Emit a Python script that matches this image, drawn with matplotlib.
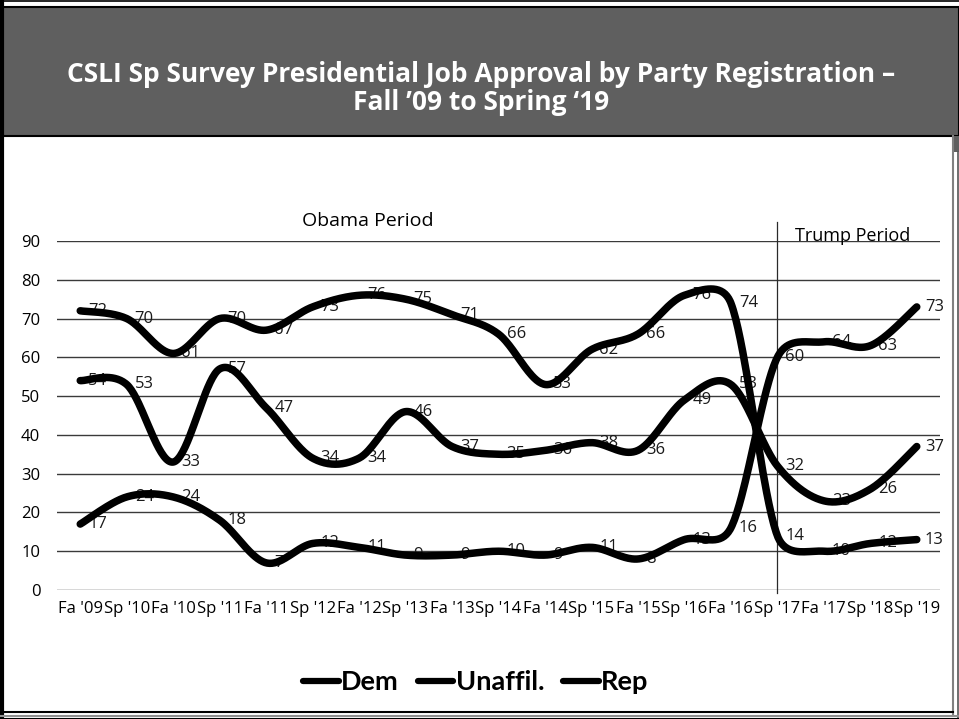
import numpy as np
import matplotlib
matplotlib.use("Agg")
import matplotlib.pyplot as plt
from matplotlib.patches import Rectangle
from matplotlib.lines import Line2D

# ---------------- data ----------------
categories = ["Fa '09", "Sp '10", "Fa '10", "Sp '11", "Fa '11", "Sp '12", "Fa '12",
              "Sp '13", "Fa '13", "Sp '14", "Fa '14", "Sp '15", "Fa '15", "Sp '16",
              "Fa '16", "Sp '17", "Fa '17", "Sp '18", "Sp '19"]
dem = [72, 70, 61, 70, 67, 73, 76, 75, 71, 66, 53, 62, 66, 76, 74, 14, 10, 12, 13]
unaffil = [54, 53, 33, 57, 47, 34, 34, 46, 37, 35, 36, 38, 36, 49, 53, 32, 23, 26, 37]
rep = [17, 24, 24, 18, 7, 12, 11, 9, 9, 10, 9, 11, 8, 13, 16, 60, 64, 63, 73]
series_names = ["Dem", "Unaffil.", "Rep"]
yticks = [0, 10, 20, 30, 40, 50, 60, 70, 80, 90]
title_lines = ["CSLI Sp Survey Presidential Job Approval by Party Registration \u2013",
               "Fall \u201909 to Spring \u201819"]
obama_label = "Obama Period"
trump_label = "Trump Period"
trump_start = "Sp '17"

W, H = 959, 719
fig = plt.figure(figsize=(W / 100, H / 100), dpi=100)
fig.patch.set_facecolor("white")

# ---------- frame / header overlay (pixel coordinates) ----------
bg = fig.add_axes([0, 0, 1, 1], zorder=0)
bg.set_xlim(0, W)
bg.set_ylim(H, 0)
bg.axis("off")
bg.add_patch(Rectangle((1, 7), W - 1.5, 129, facecolor="#5f5f5f",
                       edgecolor="black", lw=1.5))
bg.add_patch(Rectangle((954, 136), 5, 16, facecolor="#5f5f5f", edgecolor="none"))
bg.add_line(Line2D([0, W], [0.5, 0.5], color="black", lw=1.2))
bg.add_line(Line2D([1.5, 1.5], [0, H], color="black", lw=3))
bg.add_line(Line2D([953, 953], [136, 714], color="#808080", lw=1.5))
bg.add_line(Line2D([957.5, 957.5], [152, H], color="#555555", lw=1.2))
bg.add_line(Line2D([0, 953], [712, 712], color="black", lw=1.5))
bg.add_line(Line2D([0, W], [715.5, 715.5], color="#909090", lw=1.5))
bg.add_line(Line2D([0, W], [718.5, 718.5], color="black", lw=1.5))
title_font = ["Open Sans", "DejaVu Sans"]
bg.text(481, 74, title_lines[0], color="white", fontsize=19, fontweight="bold",
        family=title_font, ha="center", va="center")
bg.text(481, 103, title_lines[1], color="white", fontsize=19, fontweight="bold",
        family=title_font, ha="center", va="center")

# ---------------- main chart ----------------
left, right, bottom_px, top_px = 57, 940, 590, 241
ax = fig.add_axes([left / W, (H - bottom_px) / H, (right - left) / W,
                   (bottom_px - top_px) / H], zorder=1)
ax.set_facecolor("none")
n = len(categories)
x = np.arange(n)
ax.set_xlim(-0.5, n - 0.5)
ax.set_ylim(0, 90)
for s in ax.spines.values():
    s.set_visible(False)
ax.set_yticks(yticks)
ax.set_xticks(x)
ax.set_xticklabels(categories)
ax.tick_params(axis="both", length=0, labelsize=12, colors="black")
ax.tick_params(axis="y", pad=12)
ax.tick_params(axis="x", pad=8)
for lab in ax.get_xticklabels() + ax.get_yticklabels():
    lab.set_family(["Open Sans", "DejaVu Sans"])
for yv in yticks:
    ax.axhline(yv, color="#3a3a3a", lw=1.0, zorder=1)


def excel_smooth(xs, ys, nseg=40):
    pts = ax.transData.transform(np.column_stack([xs, ys]).astype(float))
    N = len(pts)
    out = [pts[:1]]
    for i in range(N - 1):
        p0 = pts[i - 1] if i > 0 else pts[i]
        p1 = pts[i]
        p2 = pts[i + 1]
        p3 = pts[i + 2] if i + 2 < N else pts[i + 1]
        d12 = np.linalg.norm(p2 - p1)
        d02 = np.linalg.norm(p2 - p0)
        d13 = np.linalg.norm(p3 - p1)
        f1 = 1 / 6 if d02 / 6 < d12 / 2 else d12 / (2 * d02)
        f2 = 1 / 6 if d13 / 6 < d12 / 2 else d12 / (2 * d13)
        b1 = p1 + (p2 - p0) * f1
        b2 = p2 - (p3 - p1) * f2
        t = np.linspace(0, 1, nseg)[1:, None]
        seg = ((1 - t) ** 3) * p1 + 3 * ((1 - t) ** 2) * t * b1 \
            + 3 * (1 - t) * t ** 2 * b2 + t ** 3 * p2
        out.append(seg)
    allp = np.vstack(out)
    return ax.transData.inverted().transform(allp)


for name, vals in zip(series_names, [dem, unaffil, rep]):
    curve = excel_smooth(x, vals)
    ax.plot(curve[:, 0], curve[:, 1], color="black", lw=5.4,
            solid_capstyle="round", solid_joinstyle="round", zorder=4,
            label=name, clip_on=False)
    for xi, v in zip(x, vals):
        ax.annotate(str(v), (xi, v), xytext=(8, 0), textcoords="offset pixels",
                    ha="left", va="center", fontsize=12, color="#1a1a1a",
                    family=["Open Sans", "DejaVu Sans"], zorder=2,
                    annotation_clip=False)

# period divider & labels
xs = categories.index(trump_start)
ax.plot([xs, xs], [-0.8, 94.9], color="#2a2a2a", lw=0.9, clip_on=False, zorder=3)
ax.text(6.19, 95.2, obama_label, ha="center", va="center", fontsize=14,
        family=["Open Sans", "DejaVu Sans"], color="black", clip_on=False)
ax.text(16.61, 91.3, trump_label, ha="center", va="center", fontsize=13,
        family=["Open Sans", "DejaVu Sans"], color="black", clip_on=False)

leg = fig.legend(loc="center", bbox_to_anchor=(476 / W, 1 - 682 / H), ncol=3,
                 frameon=False, handlelength=1.3, handletextpad=0.1,
                 columnspacing=0.7,
                 prop={"family": ["Lato", "DejaVu Sans"], "weight": "bold",
                       "size": 19.5})
for h in leg.get_lines():
    h.set_linewidth(4.5)

fig.savefig("out.png", dpi=100)
